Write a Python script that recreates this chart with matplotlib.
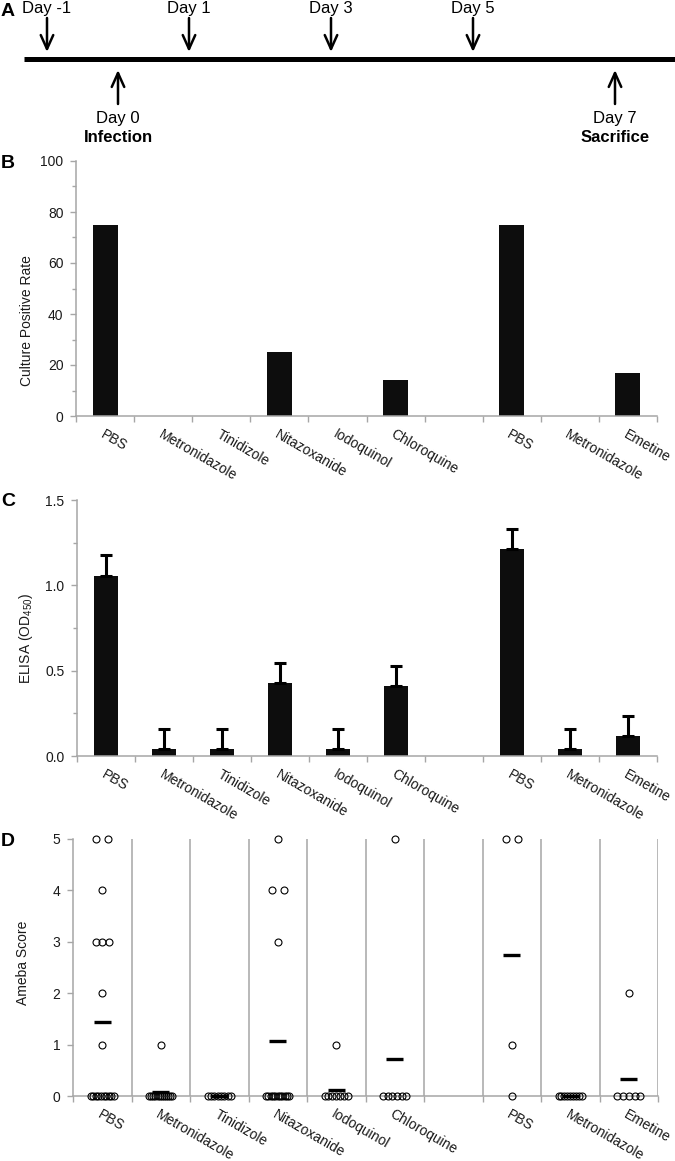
import numpy as np
import matplotlib
matplotlib.use("Agg")
import matplotlib.pyplot as plt
from matplotlib.ticker import MultipleLocator, FormatStrFormatter

plt.rcParams['font.family'] = ['Liberation Sans', 'DejaVu Sans']
plt.rcParams['mathtext.fontset'] = 'custom'
plt.rcParams['mathtext.rm'] = 'Liberation Sans'

# ---- data ----
dose_days = [-1, 1, 3, 5]
event_days = [0, 7]
event_names = ["Infection", "Sacrifice"]

drugs = ["PBS", "Metronidazole", "Tinidizole", "Nitazoxanide", "Iodoquinol",
         "Chloroquine", "PBS", "Metronidazole", "Emetine"]
culture_pos = [75, 0, 0, 25, 0, 14.3, 75, 0, 16.7]
elisa_mean = [1.055, 0.04, 0.04, 0.425, 0.04, 0.41, 1.213, 0.04, 0.119]
elisa_err = [0.12, 0.12, 0.12, 0.118, 0.12, 0.12, 0.12, 0.12, 0.117]
ameba = [
    [5, 5, 4, 3, 3, 3, 2, 1, 0, 0, 0, 0, 0, 0, 0, 0, 0, 0],
    [1, 0, 0, 0, 0, 0, 0, 0, 0, 0, 0, 0, 0],
    [0, 0, 0, 0, 0, 0, 0, 0],
    [5, 4, 4, 3, 0, 0, 0, 0, 0, 0, 0, 0, 0, 0, 0],
    [1, 0, 0, 0, 0, 0, 0, 0],
    [5, 0, 0, 0, 0, 0, 0],
    [5, 5, 1, 0],
    [0, 0, 0, 0, 0, 0, 0, 0, 0],
    [2, 0, 0, 0, 0, 0],
]

W, H = 675, 1161
gray = "#a6a6a6"
txt = "#1a1a1a"

# slot centres: two groups separated by one empty slot
xpos = np.arange(len(drugs)) + 0.5
xpos[6:] += 1
nslots = 10


def rect(l, t, r, b):
    return [l / W, 1 - b / H, (r - l) / W, (b - t) / H]


def style(ax, ymax, ylab, ylab_y):
    ax.set_xlim(0, nslots)
    ax.set_ylim(0, ymax)
    for s in ["top", "right"]:
        ax.spines[s].set_visible(False)
    for s in ["left", "bottom"]:
        ax.spines[s].set_color(gray)
        ax.spines[s].set_linewidth(1.1)
    ax.set_xticks(np.arange(nslots + 1))
    ax.set_xticklabels([])
    ax.tick_params(axis="x", which="major", length=4, width=1, color=gray)
    ax.set_xticks(xpos, labels=drugs, minor=True)
    ax.tick_params(axis="x", which="minor", length=0, pad=8, labelsize=10,
                   labelcolor=txt)
    for lbl in ax.get_xticklabels(minor=True):
        lbl.set_rotation(-30)
        lbl.set_ha("left")
        lbl.set_va("top")
        lbl.set_rotation_mode("anchor")
    ax.tick_params(axis="y", which="major", length=4, width=1, color=gray,
                   labelsize=10, labelcolor=txt, pad=5)
    ax.tick_params(axis="y", which="minor", length=3, width=1, color=gray)
    ax.set_ylabel(ylab, fontsize=10, color=txt)
    ax.yaxis.set_label_coords(-0.073, ylab_y)


fig = plt.figure(figsize=(W / 100, H / 100), dpi=100)

# ---- A: timeline ----
ax_a = fig.add_axes(rect(0, 0, W, 150))
day_px = 71.0
x_left = -1 - 47 / day_px
ax_a.set_xlim(x_left, x_left + W / day_px)
ax_a.set_ylim(150, 0)
ax_a.axis("off")
ax_a.plot([min(dose_days) - 0.32, x_left + W / day_px], [59, 59],
          color="black", lw=3.6, solid_capstyle="butt")
arrow = dict(arrowstyle="->,head_length=1.0,head_width=0.45", lw=1.8,
             color="black", mutation_scale=10, shrinkA=0, shrinkB=0)
for d in dose_days:
    ax_a.annotate("", xy=(d, 52), xytext=(d, 18), arrowprops=arrow)
    ax_a.text(d, 9, f"Day {d}", ha="center", va="center", fontsize=12)
for d, name in zip(event_days, event_names):
    ax_a.annotate("", xy=(d, 70), xytext=(d, 104), arrowprops=arrow)
    ax_a.text(d, 118, f"Day {d}", ha="center", va="center", fontsize=12)
    ax_a.text(d, 138, name, ha="center", va="center", fontsize=12,
              weight="bold")

# ---- B: culture positive rate ----
ax_b = fig.add_axes(rect(76, 161, 657, 416))
ax_b.bar(xpos, culture_pos, width=0.43, color="#0d0d0d")
ax_b.yaxis.set_major_locator(MultipleLocator(20))
ax_b.yaxis.set_minor_locator(MultipleLocator(10))
style(ax_b, 100, "Culture Positive Rate", 0.376)

# ---- C: ELISA ----
ax_c = fig.add_axes(rect(77, 500, 657, 756))
ax_c.bar(xpos, elisa_mean, width=0.43, color="#0d0d0d")
ax_c.errorbar(xpos, elisa_mean, yerr=[np.zeros(len(elisa_err)), elisa_err],
              fmt="none", ecolor="black", elinewidth=2.2, capsize=4.5,
              capthick=2.2)
ax_c.yaxis.set_major_locator(MultipleLocator(0.5))
ax_c.yaxis.set_minor_locator(MultipleLocator(0.25))
ax_c.yaxis.set_major_formatter(FormatStrFormatter("%.1f"))
style(ax_c, 1.5, r"ELISA (OD$_{\mathrm{450}}$)", 0.461)


# ---- D: ameba score ----
def spread(vals):
    # side-by-side offsets for points sharing the same score
    vals = np.asarray(vals)
    offs = np.zeros(len(vals))
    for v in np.unique(vals):
        idx = np.where(vals == v)[0]
        n = len(idx)
        if n == 2:
            offs[idx] = [-0.1, 0.1]
        elif n > 2:
            step = min(0.11, 0.4 / (n - 1))
            offs[idx] = (np.arange(n) - (n - 1) / 2) * step
    return offs


ax_d = fig.add_axes(rect(73, 839, 658, 1096))
ax_d.vlines(np.arange(1, nslots + 1), 0, 5, color=gray, lw=1.1)
for xc, vals in zip(xpos, ameba):
    ax_d.plot(xc + spread(vals), vals, "o", mfc="none", mec="black",
              ms=5, mew=0.8, clip_on=False, zorder=3)
    m = np.mean(vals)
    ax_d.plot([xc - 0.145, xc + 0.145], [m, m], color="black", lw=2.4,
              solid_capstyle="butt", clip_on=False, zorder=4)
ax_d.yaxis.set_major_locator(MultipleLocator(1))
style(ax_d, 5, "Ameba Score", 0.52)

# panel letters
for letter, y in [("A", 11), ("B", 163), ("C", 501), ("D", 842)]:
    fig.text(8 / W, 1 - y / H, letter, ha="center", va="center",
             fontsize=14, weight="bold")

fig.savefig("out.png", dpi=100)
